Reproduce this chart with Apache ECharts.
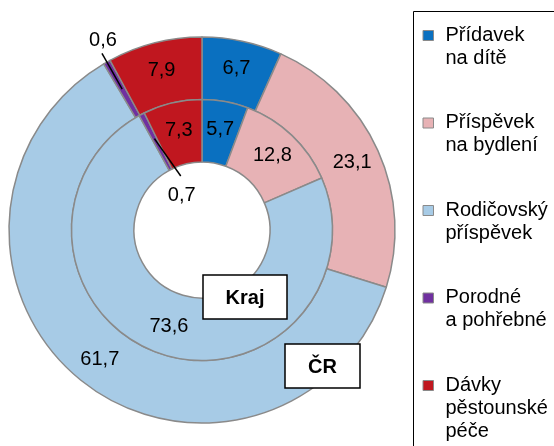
<!DOCTYPE html>
<html><head><meta charset="utf-8">
<script src="https://cdn.jsdelivr.net/npm/echarts@6/dist/echarts.min.js"></script>
<style>html,body{margin:0;padding:0;background:#fff}#c{width:554px;height:446px}</style>
</head><body><div id="c"></div>
<script>
const categories = ['Přídavek\nna dítě', 'Příspěvek\nna bydlení', 'Rodičovský\npříspěvek', 'Porodné\na pohřebné', 'Dávky\npěstounské\npéče'];
const krajValues = [5.7, 12.8, 73.6, 0.7, 7.3];
const crValues = [6.7, 23.1, 61.7, 0.6, 7.9];
const colors = ['#0A70C0', '#E7B2B5', '#A7CBE6', '#7030A0', '#C0171F'];
const ringNames = ['ČR', 'Kraj'];

const FONT = "'Liberation Sans', Arial, sans-serif";
const fmt = v => String(v).replace('.', ',');
const SMALL = 1;

function ringData(vals) {
  return vals.map((v, i) => ({
    name: categories[i], value: v,
    itemStyle: { color: colors[i] },
    label: { show: v >= SMALL }
  }));
}

const chart = echarts.init(document.getElementById('c'), null, { renderer: 'canvas' });
const baseSeries = {
  type: 'pie', center: [202, 230], startAngle: 90, clockwise: true,
  animation: false, avoidLabelOverlap: false,
  itemStyle: { borderColor: '#8a8a8a', borderWidth: 1.5 },
  label: { position: 'inside', color: '#000', fontSize: 20, fontFamily: FONT, formatter: p => fmt(p.value) },
  labelLine: { show: false },
  emphasis: { disabled: true }
};
chart.setOption({
  animation: false,
  series: [
    Object.assign({}, baseSeries, { name: ringNames[0], radius: [130.5, 193], data: ringData(crValues) }),
    Object.assign({}, baseSeries, { name: ringNames[1], radius: [68, 130.5], data: ringData(krajValues) })
  ]
});

function pt(si, di, r, dAngDeg) {
  const lay = chart.getModel().getSeriesByIndex(si).getData().getItemLayout(di);
  const a = (lay.startAngle + lay.endAngle) / 2 + (dAngDeg || 0) * Math.PI / 180;
  return [lay.cx + r * Math.cos(a), lay.cy + r * Math.sin(a)];
}

const graphics = [];
// small-slice leader labels: [series, values, r start, r end, end angle shift, label offset, valign]
[[0, crValues, 162, 203, 0, -3, 'bottom'], [1, krajValues, 103, 58, 6, 9, 'top']].forEach(([si, vals, r1, r2, da, off, va]) => {
  vals.forEach((v, di) => {
    if (v >= SMALL) return;
    const a = pt(si, di, r1), b = pt(si, di, r2, da);
    graphics.push({ type: 'line', shape: { x1: a[0], y1: a[1], x2: b[0], y2: b[1] }, style: { stroke: '#000', lineWidth: 1.5 }, z: 10 });
    graphics.push({ type: 'text', x: b[0] + 1, y: b[1] + off, style: { text: fmt(v), font: '20px ' + FONT, fill: '#000', textAlign: 'center', textVerticalAlign: va }, z: 10 });
  });
});
// ring name boxes
[[ringNames[1], 203, 275, 84, 44], [ringNames[0], 285, 344, 75, 44]].forEach(([t, x, y, w, h]) => {
  graphics.push({ type: 'rect', shape: { x: x, y: y, width: w, height: h }, style: { fill: '#fff', stroke: '#000', lineWidth: 1.5 }, z: 10 });
  graphics.push({ type: 'text', x: x + w / 2, y: y + h / 2 + 1, style: { text: t, font: 'bold 20px ' + FONT, fill: '#000', textAlign: 'center', textVerticalAlign: 'middle' }, z: 11 });
});
// legend
graphics.push({ type: 'rect', shape: { x: 413.5, y: 11.5, width: 160, height: 460 }, style: { fill: 'none', stroke: '#000', lineWidth: 1 }, z: 10 });
categories.forEach((c, i) => {
  const y0 = 35 + i * 87.5;
  graphics.push({ type: 'rect', shape: { x: 423, y: y0 - 4.5, width: 10.5, height: 10 }, style: { fill: colors[i], stroke: '#8a8a8a', lineWidth: 1 }, z: 10 });
  graphics.push({ type: 'text', x: 445.5, y: y0 - 11.5, style: { text: c, font: '20px ' + FONT, lineHeight: 23, fill: '#000', textAlign: 'left', textVerticalAlign: 'top' }, z: 10 });
});
chart.setOption({ graphic: graphics });
</script></body></html>
